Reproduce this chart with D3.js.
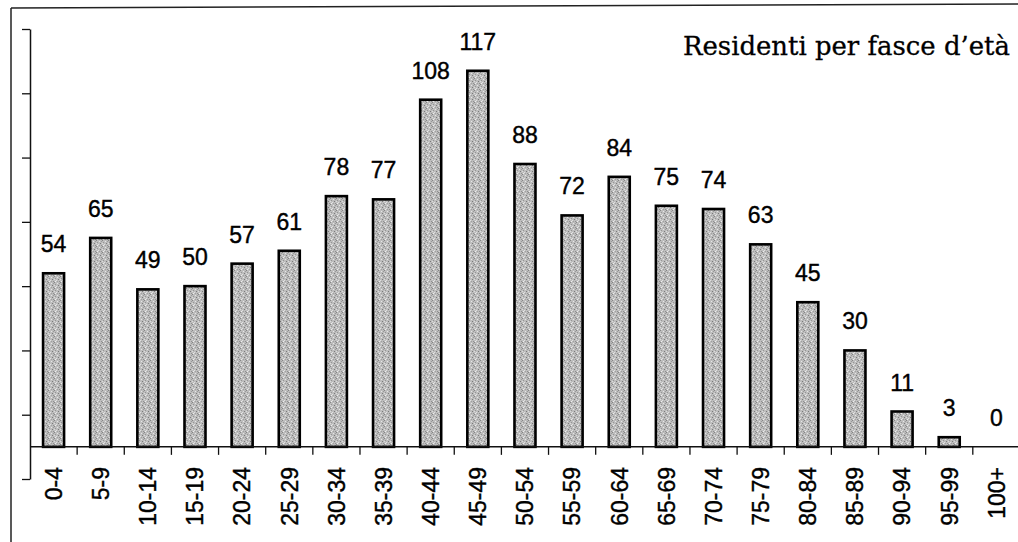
<!DOCTYPE html>
<html><head><meta charset="utf-8">
<script src="https://cdn.jsdelivr.net/npm/d3@7"></script>
<style>html,body{margin:0;padding:0;background:#fff;}svg{display:block;}</style>
</head><body>
<script>
const categories = ["0-4","5-9","10-14","15-19","20-24","25-29","30-34","35-39","40-44","45-49","50-54","55-59","60-64","65-69","70-74","75-79","80-84","85-89","90-94","95-99","100+"];
const values = [54,65,49,50,57,61,78,77,108,117,88,72,84,75,74,63,45,30,11,3,0];
const yTicks = [-10,10,30,50,70,90,110,130];
const title = "Residenti per fasce d\u2019et\u00e0";

const W = 1018, H = 542;
const svg = d3.select("body").append("svg").attr("width", W).attr("height", H);

// texture pattern for bars
const defs = svg.append("defs");
const pat = defs.append("pattern").attr("id","grain").attr("patternUnits","userSpaceOnUse").attr("width",6).attr("height",6);
pat.append("rect").attr("width",6).attr("height",6).attr("fill","#bdbdbd");
[[0,0,"#858585"],[3,1,"#e6e6e6"],[1,2,"#959595"],[4,3,"#7a7a7a"],[2,4,"#e0e0e0"],[5,5,"#909090"],[0,3,"#dcdcdc"],[5,1,"#9a9a9a"],[3,5,"#a0a0a0"],[1,5,"#efefef"]]
  .forEach(([x,y,c]) => pat.append("rect").attr("x",x).attr("y",y).attr("width",1).attr("height",1).attr("fill",c));

// frame
svg.append("line").attr("x1",11).attr("y1",8).attr("x2",W).attr("y2",4).attr("stroke","#222").attr("stroke-width",1.5);
svg.append("line").attr("x1",11).attr("y1",8).attr("x2",11).attr("y2",H).attr("stroke","#222").attr("stroke-width",1.5);

const x = d3.scaleBand().domain(categories).range([30, 30 + 21*47.14]).padding(0);
const y = d3.scaleLinear().domain([-10,130]).range([479,29]);

// y axis
const yAxis = svg.append("g").attr("transform","translate(30,0)")
  .call(d3.axisLeft(y).tickValues(yTicks).tickSize(8).tickSizeOuter(0).tickFormat(""));
yAxis.select(".domain").attr("stroke","#111").attr("stroke-width",1.5);
yAxis.selectAll(".tick line").attr("stroke","#111").attr("stroke-width",1.3);

// bars
const bw = 21;
svg.append("g").selectAll("rect").data(values).join("rect")
  .attr("x",(d,i)=>x(categories[i]) + x.bandwidth()/2 - bw/2)
  .attr("y",d=>y(d))
  .attr("width",bw)
  .attr("height",d=>y(0)-y(d))
  .attr("fill","url(#grain)")
  .attr("stroke","#000").attr("stroke-width",2.6)
  .attr("display",d=>d>0?null:"none");

// x axis
svg.append("line").attr("x1",30).attr("x2",W).attr("y1",y(0)).attr("y2",y(0)).attr("stroke","#111").attr("stroke-width",1.5);
svg.append("g").selectAll("line").data(categories.slice(1)).join("line")
  .attr("x1",d=>x(d)).attr("x2",d=>x(d)).attr("y1",y(0)).attr("y2",y(0)+8)
  .attr("stroke","#111").attr("stroke-width",1.3);

const sans = "'Liberation Sans', Arial, Helvetica, sans-serif";
// x labels
svg.append("g").selectAll("text").data(categories).join("text")
  .attr("transform",d=>`translate(${x(d)+x.bandwidth()/2},467) rotate(-90)`)
  .attr("text-anchor","end").attr("dy","0.36em")
  .style("font-family",sans).style("font-size","23px").attr("fill","#000")
  .attr("stroke","#000").attr("stroke-width",0.4)
  .text(d=>d);

// value labels
svg.append("g").selectAll("text").data(values).join("text")
  .attr("x",(d,i)=>x(categories[i])+x.bandwidth()/2)
  .attr("y",d=>y(d)-21)
  .attr("text-anchor","middle")
  .style("font-family",sans).style("font-size","23px").attr("fill","#000")
  .attr("stroke","#000").attr("stroke-width",0.4)
  .text(d=>d);

// title, sized so its width matches the reference (~327px)
const t = svg.append("text").attr("x",683).attr("y",55)
  .style("font-family","'DejaVu Serif', 'Liberation Serif', serif").style("font-size","24px").attr("fill","#000")
  .attr("stroke","#000").attr("stroke-width",0.3)
  .text(title);
const len = t.node().getComputedTextLength();
t.style("font-size", (24*327/len).toFixed(2) + "px");
</script>
</body></html>
